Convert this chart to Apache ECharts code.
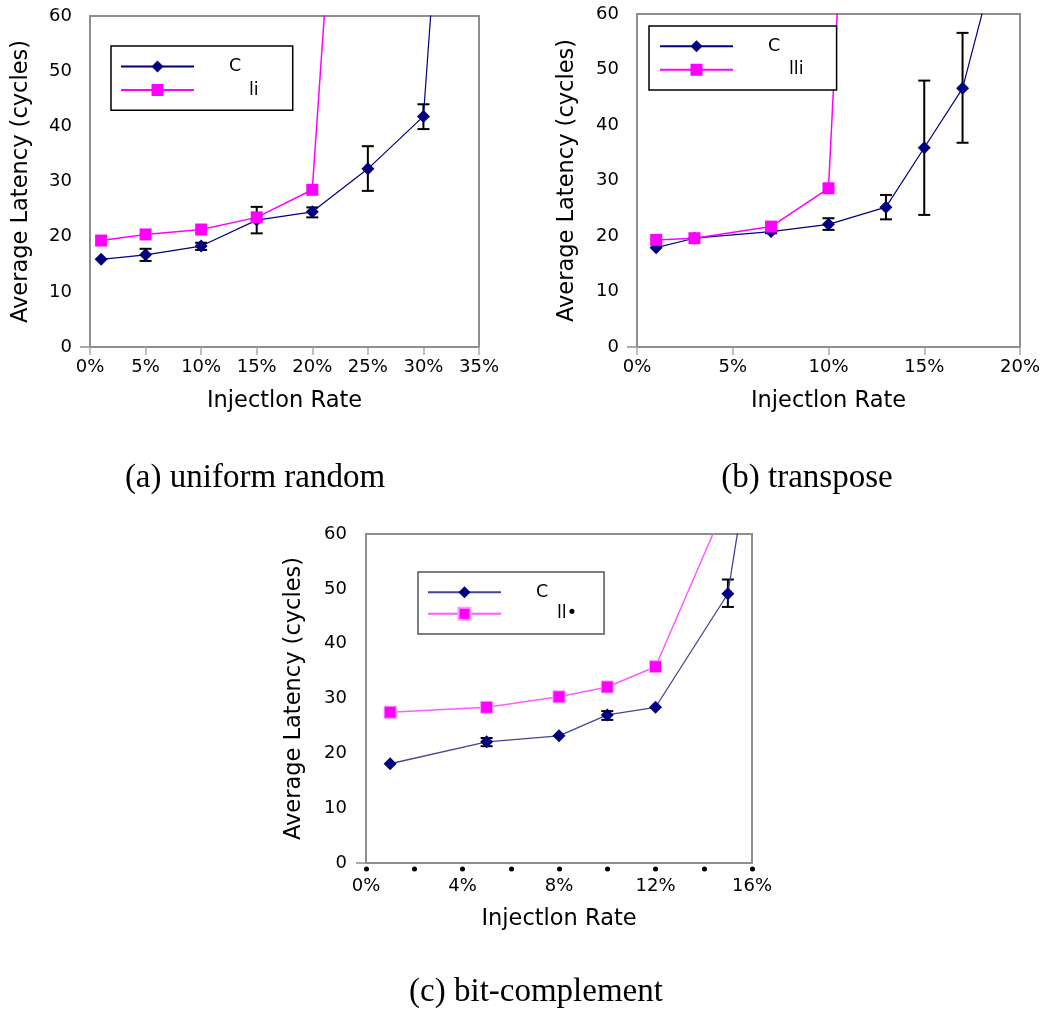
<!DOCTYPE html>
<html><head><meta charset="utf-8">
<script src="https://cdn.jsdelivr.net/npm/echarts@6/dist/echarts.min.js"></script>
<style>html,body{margin:0;padding:0;background:#fff}#c{width:1052px;height:1017px}</style>
</head><body><div id="c"></div>
<script>
// ---- data: (a) uniform random ----
const rateCA = [1, 5, 10, 15, 20, 25, 30, 31];
const latCA  = [15.9, 16.7, 18.3, 23.0, 24.5, 32.3, 41.8, 70];
const rateLA = [1, 5, 10, 15, 20, 22];
const latLA  = [19.3, 20.4, 21.3, 23.5, 28.5, 87];
const errA = [[5, 15.6, 17.8], [10, 17.6, 18.9], [15, 20.6, 25.4], [20, 23.5, 25.3], [25, 28.3, 36.4], [30, 39.5, 44.0]];
// ---- data: (b) transpose ----
const rateCB = [1, 3, 7, 10, 13, 15, 17, 19];
const latCB  = [17.9, 19.6, 20.8, 22.1, 25.2, 35.9, 46.6, 73];
const rateLB = [1, 3, 7, 10, 11];
const latLB  = [19.3, 19.6, 21.7, 28.6, 98];
const errB = [[7, 20.5, 21.2], [10, 21.1, 23.2], [13, 23.0, 27.4], [15, 23.8, 48.0], [17, 36.8, 56.6]];
// ---- data: (c) bit-complement ----
const rateCC = [1, 5, 8, 10, 12, 15, 16];
const latCC  = [18.1, 22.1, 23.2, 27.0, 28.4, 49.1, 77];
const rateLC = [1, 5, 8, 10, 12, 15];
const latLC  = [27.5, 28.4, 30.3, 32.1, 35.8, 66.3];
const errC = [[5, 21.3, 22.8], [10, 26.1, 27.7], [15, 46.7, 51.7]];
// ---- labels ----
const legendA = ['C', 'li'];
const legendB = ['C', 'lli'];
const legendC = ['C', 'll\u2022'];
const captions = ['(a) uniform random', '(b) transpose', '(c) bit-complement'];
const xTitle = 'Injectlon Rate';
const yTitle = 'Average Latency (cycles)';
const yTicks = [0, 10, 20, 30, 40, 50, 60];

const zip = (xs, ys) => xs.map((x, i) => [x, ys[i]]);
const FONT = 'DejaVu Sans';
const GRAY = '#8e8e8e';
const TXT = '#000';
const TICK_FS = 18, TITLE_FS = 22.5, LEG_FS = 17.5;

const grids = [
  {left: 90, top: 16, width: 389, height: 331},
  {left: 637, top: 14, width: 383, height: 333},
  {left: 366, top: 534, width: 386, height: 329}
].map(g => Object.assign(g, {show: true, borderColor: GRAY, borderWidth: 2, backgroundColor: 'transparent'}));

function xAxis(i, max, interval, labelEvery, dots, margin, nameGap) {
  return {
    type: 'value', gridIndex: i, min: 0, max: max, interval: interval,
    name: xTitle, nameLocation: 'middle', nameGap: nameGap,
    nameTextStyle: {fontFamily: FONT, fontSize: TITLE_FS, color: TXT},
    axisLine: {show: true, lineStyle: {color: GRAY, width: 2}},
    axisTick: dots ? {show: true, length: 10, lineStyle: {color: '#000', width: 5, cap: 'round', type: [0.01, 100], dashOffset: -6}}
                   : {show: true, length: 8, lineStyle: {color: '#aaa', width: 1.5}},
    splitLine: {show: false},
    axisLabel: {fontFamily: FONT, fontSize: TICK_FS, color: TXT, margin: margin,
      formatter: v => (Math.round(v) % labelEvery === 0 ? v + '%' : '')}
  };
}
function yAxis(i, nameGap, margin) {
  return {
    type: 'value', gridIndex: i, min: yTicks[0], max: yTicks[yTicks.length - 1], interval: 10,
    name: yTitle, nameLocation: 'middle', nameGap: nameGap,
    nameTextStyle: {fontFamily: FONT, fontSize: TITLE_FS, color: TXT},
    axisLine: {show: true, lineStyle: {color: GRAY, width: 2}},
    axisTick: {show: true, customValues: [0], length: 10, lineStyle: {color: GRAY, width: 1.5}},
    splitLine: {show: false},
    axisLabel: {fontFamily: FONT, fontSize: TICK_FS, color: TXT, margin: margin}
  };
}

function errRender(params, api) {
  const x = api.value(0), lo = api.value(1), hi = api.value(2);
  const p1 = api.coord([x, lo]), p2 = api.coord([x, hi]);
  const w = 6, st = {stroke: '#000', lineWidth: 2};
  return {type: 'group', children: [
    {type: 'line', shape: {x1: p1[0], y1: p1[1], x2: p2[0], y2: p2[1]}, style: st},
    {type: 'line', shape: {x1: p1[0] - w, y1: p1[1], x2: p1[0] + w, y2: p1[1]}, style: st},
    {type: 'line', shape: {x1: p2[0] - w, y1: p2[1], x2: p2[0] + w, y2: p2[1]}, style: st}
  ]};
}

function lineSeries(name, i, data, symbol, size, lineColor, markColor, lw, border) {
  return {
    name: name, type: 'line', xAxisIndex: i, yAxisIndex: i, data: data, clip: true,
    symbol: symbol, symbolSize: size, showSymbol: true, z: 3,
    lineStyle: {color: lineColor, width: lw},
    itemStyle: {color: markColor, borderColor: border || markColor, borderWidth: border ? 1 : 0},
    emphasis: {disabled: true}, animation: false
  };
}
function errSeries(i, data) {
  return {type: 'custom', xAxisIndex: i, yAxisIndex: i, data: data, renderItem: errRender,
    encode: {x: 0, y: [1, 2]}, z: 2, animation: false, silent: true};
}

function legend(names, labels, left, top, gap, pads, padding, border) {
  const rs = p => ({fontFamily: FONT, fontSize: LEG_FS, color: TXT, padding: [0, 0, 0, p]});
  return {
    orient: 'vertical', left: left, top: top, itemWidth: 73, itemHeight: 15, itemGap: gap,
    padding: padding, borderColor: border, borderWidth: 1.5, backgroundColor: '#fff',
    data: names, selectedMode: false, z: 10,
    formatter: n => '{p' + names.indexOf(n) + '|' + labels[names.indexOf(n)] + '}',
    textStyle: {fontFamily: FONT, fontSize: LEG_FS, color: TXT, rich: {p0: rs(pads[0]), p1: rs(pads[1])}}
  };
}

const NAVY = '#000080', MAG = '#ff00ff';
const capFont = '33px "Liberation Serif"';
const option = {
  backgroundColor: '#fff',
  animation: false,
  grid: grids,
  xAxis: [xAxis(0, 35, 5, 5, false, 11, 43), xAxis(1, 20, 5, 5, false, 11, 43), xAxis(2, 16, 2, 4, true, 14, 45)],
  yAxis: [yAxis(0, 57, 18), yAxis(1, 58, 18), yAxis(2, 60, 19)],
  legend: [
    legend(['Ca', 'La'], legendA, 111, 46, 5.5, [30, 50], [11.5, 34, 11.25, 9], '#000'),
    legend(['Cb', 'Lb'], legendB, 649, 26, 5.5, [30, 51], [11.25, 33, 11.25, 10], '#000'),
    legend(['Cc', 'Lc'], legendC, 418, 572, 3.5, [30, 51], [11.25, 27, 11.25, 9], '#555')
  ],
  series: [
    errSeries(0, errA),
    lineSeries('Ca', 0, zip(rateCA, latCA), 'diamond', 13, NAVY, NAVY, 1.2),
    lineSeries('La', 0, zip(rateLA, latLA), 'rect', 12, MAG, MAG, 1.5),
    errSeries(1, errB),
    lineSeries('Cb', 1, zip(rateCB, latCB), 'diamond', 13, NAVY, NAVY, 1.2),
    lineSeries('Lb', 1, zip(rateLB, latLB), 'rect', 12, MAG, MAG, 1.5),
    errSeries(2, errC),
    lineSeries('Cc', 2, zip(rateCC, latCC), 'diamond', 13, '#44449a', NAVY, 1.3),
    lineSeries('Lc', 2, zip(rateLC, latLC), 'rect', 12, '#ff5cff', MAG, 1.5, '#ff99ff')
  ],
  graphic: [
    {type: 'text', x: 255, y: 478, style: {text: captions[0], font: capFont, fill: '#000', textAlign: 'center', textVerticalAlign: 'middle'}},
    {type: 'text', x: 807, y: 478, style: {text: captions[1], font: capFont, fill: '#000', textAlign: 'center', textVerticalAlign: 'middle'}},
    {type: 'text', x: 536, y: 992, style: {text: captions[2], font: capFont, fill: '#000', textAlign: 'center', textVerticalAlign: 'middle'}}
  ]
};
const chart = echarts.init(document.getElementById('c'), null, {renderer: 'canvas'});
chart.setOption(option);
</script>
</body></html>
